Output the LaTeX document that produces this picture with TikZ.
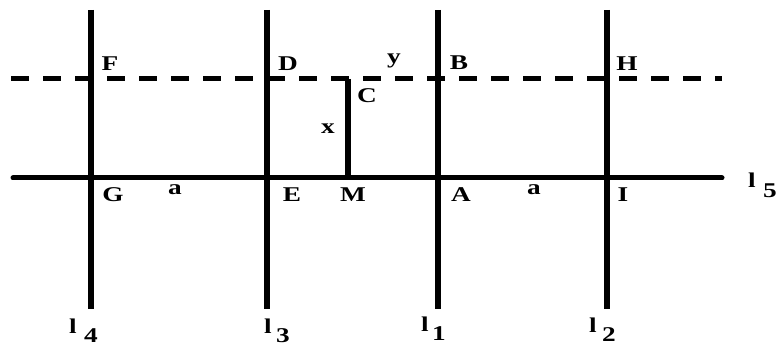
\documentclass[tikz,border=0pt]{standalone}
\usepackage{fontspec}
\setmainfont{Liberation Serif}
\newfontfamily\labfont[FakeStretch=1.3]{Liberation Serif}
\begin{document}
\begin{tikzpicture}[x=1pt,y=-1pt,
  lab/.style={font=\labfont\fontsize{21}{21}\selectfont\bfseries, inner sep=0pt, anchor=center},
  vline/.style={line width=6pt},
  hline/.style={line width=5pt},
  dline/.style={line width=5pt, dash pattern=on 18pt off 14pt, dash phase=0pt}]
\useasboundingbox (0,0) rectangle (779,347);
% endpoints
\coordinate (l4t) at (91,10);  \coordinate (l4b) at (91,309);
\coordinate (l3t) at (267,10); \coordinate (l3b) at (267,309);
\coordinate (l1t) at (438,10); \coordinate (l1b) at (438,309);
\coordinate (l2t) at (607,10); \coordinate (l2b) at (607,309);
\coordinate (hL) at (13,178);  \coordinate (hR) at (722,178);
\coordinate (dL) at (11,79);   \coordinate (dR) at (722,79);
\coordinate (Cpt) at (348,79); \coordinate (Mpt) at (348,178);
% lines
\draw[vline] (l4t) -- (l4b);
\draw[vline] (l3t) -- (l3b);
\draw[vline] (l1t) -- (l1b);
\draw[vline] (l2t) -- (l2b);
\draw[hline, line cap=round] (hL) -- (hR);
\draw[dline] (dL) -- (dR);
\draw[vline] (Cpt) -- (Mpt);
% labels
\node[lab] (F) at (110,64) {F};
\node[lab] (D) at (288,64) {D};
\node[lab] (y) at (394,61) {y};
\node[lab] (B) at (459,63) {B};
\node[lab] (H) at (627,64) {H};
\node[lab] (C) at (367,96) {C};
\node[lab] (x) at (328,129) {x};
\node[lab] (G) at (113,195) {G};
\node[lab] (a1) at (175,190) {a};
\node[lab] (E) at (292,195) {E};
\node[lab] (M) at (353,195) {M};
\node[lab] (A) at (461,195) {A};
\node[lab] (a2) at (534,190) {a};
\node[lab] (I) at (623,195) {I};
\node[lab] (l5) at (752,180) {l};
\node[lab] (n5) at (770,191) {5};
\node[lab] (l4) at (73,326) {l};
\node[lab] (n4) at (91,336) {4};
\node[lab] (l3) at (268,326) {l};
\node[lab] (n3) at (283,336) {3};
\node[lab] (l1) at (425,324) {l};
\node[lab] (n1) at (439,334) {1};
\node[lab] (l2) at (593,325) {l};
\node[lab] (n2) at (609,335) {2};
\end{tikzpicture}
\end{document}
